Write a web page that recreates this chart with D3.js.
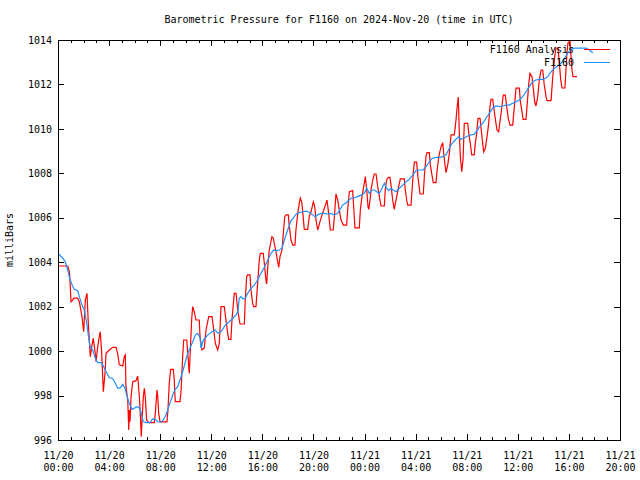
<!DOCTYPE html>
<html><head><meta charset="utf-8">
<script src="https://cdn.jsdelivr.net/npm/d3@7"></script>
<style>
body{margin:0;background:#fff}
text{font-family:"DejaVu Sans Mono","Liberation Mono",monospace;font-size:10px;fill:#000}
</style></head><body>
<svg id="c" width="640" height="480"></svg>
<script>
const title = "Barometric Pressure for F1160 on 2024-Nov-20 (time in UTC)";
const yLabel = "milliBars";
const seriesNames = ["F1160 Analysis", "F1160"];
const seriesColors = ["#ff0000", "#1e90ff"];
const yTicks = [996, 998, 1000, 1002, 1004, 1006, 1008, 1010, 1012, 1014];
const xTickHours = [0, 4, 8, 12, 16, 20, 24, 28, 32, 36, 40, 44];
const xTickLabels = [["11/20","00:00"],["11/20","04:00"],["11/20","08:00"],["11/20","12:00"],["11/20","16:00"],["11/20","20:00"],
                     ["11/21","00:00"],["11/21","04:00"],["11/21","08:00"],["11/21","12:00"],["11/21","16:00"],["11/21","20:00"]];

// hours after 2024-11-20 00:00 UTC
const redHours = [0.05,0.76,0.90,1.02,1.10,1.25,1.54,1.67,1.88,2.01,
2.14,2.27,2.37,2.45,2.53,2.64,2.76,2.90,2.98,3.11,
3.23,3.31,3.42,3.55,3.62,3.70,3.76,4.02,4.28,4.54,
4.67,4.80,5.07,5.19,5.27,5.32,5.46,5.54,5.58,5.64,
5.72,5.85,6.11,6.24,6.37,6.44,6.52,6.58,6.68,6.76,
6.83,6.94,7.10,7.54,7.62,7.75,7.81,7.88,7.99,8.53,
8.61,8.71,8.82,9.03,9.10,9.18,9.55,9.63,9.76,9.84,
10.08,10.18,10.28,10.36,10.47,10.55,10.67,10.80,11.06,11.12,
11.27,11.45,11.59,11.80,12.06,12.16,12.32,12.50,12.63,12.76,
13.02,13.15,13.29,13.36,13.54,13.62,13.80,13.94,14.07,14.25,
14.59,14.66,14.77,14.85,15.03,15.11,15.24,15.32,15.50,15.63,
15.76,15.84,16.07,16.18,16.28,16.34,16.42,16.54,16.75,16.86,
16.93,17.07,17.20,17.28,17.38,17.54,17.64,17.75,17.85,18.03,
18.11,18.24,18.38,18.55,18.63,18.77,18.89,18.97,19.08,19.16,
19.24,19.28,19.55,19.67,19.81,19.99,20.10,20.20,20.33,20.41,
20.51,20.67,20.85,20.98,21.06,21.19,21.32,21.55,21.66,21.76,
21.90,22.02,22.16,22.34,22.60,22.68,22.81,23.07,23.15,23.25,
23.59,23.67,23.80,23.98,24.06,24.17,24.27,24.33,24.43,24.53,
24.64,24.76,24.90,25.03,25.16,25.29,25.55,25.62,25.73,25.86,
25.99,26.09,26.20,26.33,26.41,26.52,26.67,26.80,27.11,27.19,
27.30,27.38,27.64,27.72,27.82,27.90,28.08,28.18,28.29,28.34,
28.60,28.68,28.81,28.89,29.07,29.15,29.28,29.38,29.59,29.67,
29.81,29.99,30.12,30.20,30.30,30.38,30.51,30.64,30.77,31.03,
31.16,31.24,31.34,31.42,31.50,31.61,31.71,31.81,32.08,32.16,
32.28,32.39,32.59,32.67,32.78,32.88,33.04,33.12,33.25,33.33,
33.46,33.59,33.72,33.82,33.90,34.03,34.16,34.29,34.37,34.50,
34.60,34.74,34.86,35.02,35.13,35.25,35.39,35.60,35.68,35.80,
35.86,36.12,36.20,36.33,36.41,36.64,36.72,36.85,36.95,37.11,
37.21,37.32,37.42,37.56,37.68,37.82,37.95,38.07,38.21,38.28,
38.60,38.68,38.78,38.89,38.99,39.15,39.25,39.36,39.46,39.69,
39.77,39.85,39.93,40.08,40.16,40.24,40.32,40.63];
const redValues = [1003.83,1003.83,1003.56,1002.22,1002.26,1002.38,1002.38,1002.22,1001.55,1000.87,
1002.30,1002.60,1001.27,1000.50,999.75,1000.20,1000.58,999.97,999.52,1000.20,
1000.65,1000.87,999.92,998.17,998.62,999.15,999.90,1000.05,1000.17,1000.17,
999.90,999.38,999.33,999.75,999.83,998.40,997.80,996.45,997.35,996.82,
997.95,998.62,998.67,998.88,997.95,997.21,996.15,996.90,997.95,998.33,
997.95,996.90,996.78,996.78,997.20,998.25,997.95,997.21,996.82,996.82,
997.35,998.55,999.18,999.18,998.70,997.73,997.73,998.17,999.75,1000.50,
1000.50,999.75,999.00,1000.05,1001.48,1002.00,1001.77,1001.40,1001.40,1000.65,
1000.05,1000.13,1000.95,1001.55,1001.55,1001.10,1000.35,1000.05,1000.35,1002.00,
1002.00,1001.40,1000.80,1000.53,1000.53,1001.40,1002.60,1002.60,1001.85,1001.22,
1001.22,1002.30,1003.35,1003.43,1003.43,1002.75,1002.15,1002.00,1002.00,1003.05,
1004.10,1004.40,1004.40,1003.80,1003.20,1003.02,1003.78,1004.55,1005.15,1005.08,
1004.85,1004.47,1004.02,1003.77,1004.25,1004.55,1005.30,1006.05,1006.13,1006.13,
1005.60,1005.00,1004.77,1004.77,1005.45,1006.20,1006.65,1006.88,1006.72,1006.27,
1005.75,1005.48,1005.48,1006.05,1006.27,1006.72,1006.50,1005.90,1005.45,1005.60,
1005.83,1006.13,1006.43,1006.65,1006.80,1006.20,1005.45,1005.45,1006.20,1007.07,
1006.80,1006.35,1005.90,1005.67,1005.67,1006.35,1007.17,1007.22,1006.50,1005.55,
1005.55,1006.35,1006.95,1007.55,1007.85,1007.25,1006.50,1006.38,1006.80,1007.33,
1007.70,1007.97,1007.97,1007.40,1006.95,1006.53,1006.53,1007.25,1007.70,1007.82,
1007.82,1007.40,1006.80,1006.38,1006.65,1006.95,1007.40,1007.75,1007.75,1007.25,
1006.80,1006.57,1006.57,1007.25,1008.07,1008.50,1008.50,1007.85,1007.33,1007.07,
1007.07,1007.85,1008.75,1008.93,1008.93,1008.37,1007.92,1007.58,1007.58,1008.07,
1008.75,1009.20,1009.38,1008.90,1008.37,1008.03,1008.37,1008.90,1009.73,1009.73,
1010.40,1010.93,1011.43,1009.80,1008.75,1008.07,1008.60,1010.25,1010.25,1009.80,
1009.35,1008.83,1008.83,1009.35,1009.80,1010.47,1010.47,1010.04,1009.35,1008.97,
1009.13,1009.65,1010.25,1011.00,1011.33,1011.33,1010.77,1010.25,1009.95,1009.87,
1010.32,1010.93,1011.52,1011.52,1011.00,1010.47,1010.17,1010.17,1010.70,1011.45,
1011.83,1011.83,1011.22,1010.77,1010.43,1010.43,1011.00,1011.98,1012.50,1012.35,
1011.83,1011.22,1011.03,1011.45,1012.20,1012.65,1012.65,1011.98,1011.45,1011.27,
1011.27,1011.90,1012.65,1013.25,1013.64,1013.64,1012.97,1012.20,1011.84,1011.84,
1012.65,1013.46,1013.87,1013.95,1013.32,1012.65,1012.35,1012.35];

const blueHours = [0.05,0.37,0.57,0.76,0.88,1.10,1.28,1.54,1.67,1.88,
2.06,2.25,2.37,2.51,2.72,2.92,3.11,3.37,3.58,3.76,
4.02,4.28,4.49,4.67,4.85,5.07,5.25,5.38,5.58,5.79,
5.97,6.16,6.37,6.52,6.68,6.89,7.20,7.41,7.62,7.81,
8.06,8.24,8.46,8.67,8.85,9.03,9.18,9.37,9.55,9.76,
9.97,10.15,10.33,10.55,10.75,10.94,11.12,11.20,11.38,11.72,
12.06,12.32,12.50,12.76,13.10,13.41,13.68,13.94,14.09,14.19,
14.33,14.46,14.66,14.85,15.11,15.37,15.63,15.89,16.15,16.42,
16.68,16.89,17.07,17.33,17.54,17.72,17.98,18.24,18.42,18.63,
18.89,19.16,19.42,19.67,19.94,20.12,20.33,20.59,20.85,21.12,
21.37,21.63,21.90,22.08,22.29,22.55,22.94,23.20,23.46,23.72,
23.98,24.17,24.37,24.58,24.76,24.95,25.16,25.37,25.55,25.68,
25.89,26.07,26.25,26.46,26.72,26.99,27.25,27.50,27.77,28.03,
28.29,28.60,28.81,29.07,29.28,29.59,29.91,30.12,30.38,30.64,
30.85,31.10,31.37,31.55,31.76,32.08,32.33,32.59,32.86,32.98,
33.25,33.51,33.77,34.03,34.29,34.55,34.82,35.07,35.33,35.60,
35.86,36.12,36.38,36.64,36.90,37.16,37.42,37.68,37.95,38.15,
38.34,38.60,38.86,39.12,39.38,39.64,39.90,40.16,40.42,40.81,
41.34,41.60,41.87];
const blueValues = [1004.37,1004.18,1004.02,1003.65,1003.35,1002.97,1002.78,1002.72,1002.45,1002.07,
1001.85,1001.25,1000.72,1000.20,1000.05,999.68,999.48,999.48,999.30,999.07,
998.80,998.77,998.55,998.33,998.33,998.50,998.33,998.02,997.65,997.38,
997.43,997.50,997.45,997.20,996.82,996.78,996.78,996.95,996.93,996.82,
996.80,996.90,997.12,997.50,997.80,998.10,998.28,998.40,998.70,999.07,
999.52,999.90,1000.13,1000.42,1000.72,1000.80,1000.59,1000.13,1000.50,1000.72,
1000.87,1000.95,1000.80,1000.87,1001.17,1001.32,1001.48,1001.63,1001.78,1002.38,
1002.45,1002.35,1002.38,1002.60,1002.83,1002.97,1003.20,1003.50,1003.77,1004.10,
1004.40,1004.55,1004.52,1004.55,1004.63,1005.00,1005.45,1005.87,1005.98,1006.16,
1006.23,1006.27,1006.30,1006.25,1006.13,1006.05,1006.13,1006.20,1006.20,1006.16,
1006.20,1006.13,1006.20,1006.38,1006.57,1006.68,1006.88,1006.90,1006.95,1007.02,
1007.10,1007.33,1007.10,1007.25,1007.25,1007.17,1007.10,1007.33,1007.55,1007.37,
1007.22,1007.33,1007.25,1007.17,1007.33,1007.47,1007.62,1007.73,1007.92,1008.12,
1008.15,1008.15,1008.30,1008.52,1008.67,1008.72,1008.72,1008.75,1008.83,1009.13,
1009.35,1009.50,1009.65,1009.53,1009.58,1009.68,1009.73,1009.76,1009.95,1010.10,
1010.25,1010.48,1010.70,1010.93,1011.03,1011.00,1011.03,1011.07,1011.07,1011.15,
1011.22,1011.30,1011.45,1011.67,1011.90,1012.12,1012.20,1012.23,1012.23,1012.28,
1012.35,1012.57,1012.72,1012.83,1012.95,1013.18,1013.40,1013.58,1013.63,1013.63,
1013.63,1013.55,1013.43];

const START = Date.UTC(2024, 10, 20, 0, 0);
const toDate = h => new Date(START + h * 3600e3);

const W = 640, H = 480;
const L = 58, R = 620, T = 40, B = 440;
const svg = d3.select("#c");
svg.append("rect").attr("width", W).attr("height", H).attr("fill", "#fff");

const x = d3.scaleUtc().domain([toDate(0), toDate(44)]).range([L, R]);
const y = d3.scaleLinear().domain([996, 1014]).range([B, T]);

const majorX = xTickHours.map(toDate);
const minorX = d3.utcHour.every(1).range(toDate(0), toDate(44.01)).filter(d => d.getUTCHours() % 4 !== 0);

function styleAxis(g) {
  g.select(".domain").remove();
  g.selectAll("line").attr("stroke", "#000").attr("shape-rendering", "crispEdges");
}

// bottom
const gb = svg.append("g").attr("transform", `translate(0,${B})`)
  .call(d3.axisBottom(x).tickValues(majorX).tickSizeInner(-6).tickSizeOuter(0).tickFormat(() => ""))
  .call(styleAxis);
gb.selectAll(".tick text").each(function(d, i) {
  const t = d3.select(this).attr("y", null).attr("dy", null);
  t.selectAll("tspan").data(xTickLabels[i]).enter().append("tspan")
    .attr("x", 0).attr("y", (s, j) => 19 + j * 12).text(s => s);
});
svg.append("g").attr("transform", `translate(0,${B})`)
  .call(d3.axisBottom(x).tickValues(minorX).tickSizeInner(-3).tickSizeOuter(0).tickFormat(() => ""))
  .call(styleAxis);
// top
svg.append("g").attr("transform", `translate(0,${T})`)
  .call(d3.axisTop(x).tickValues(majorX).tickSizeInner(-6).tickSizeOuter(0).tickFormat(() => ""))
  .call(styleAxis);
svg.append("g").attr("transform", `translate(0,${T})`)
  .call(d3.axisTop(x).tickValues(minorX).tickSizeInner(-3).tickSizeOuter(0).tickFormat(() => ""))
  .call(styleAxis);
// left
svg.append("g").attr("transform", `translate(${L},0)`)
  .call(d3.axisLeft(y).tickValues(yTicks).tickSizeInner(-6).tickSizeOuter(0).tickPadding(6).tickFormat(d3.format("d")))
  .call(styleAxis)
  .selectAll("text").attr("font-size", null);
// right
svg.append("g").attr("transform", `translate(${R},0)`)
  .call(d3.axisRight(y).tickValues(yTicks).tickSizeInner(-6).tickSizeOuter(0).tickFormat(() => ""))
  .call(styleAxis);

svg.selectAll("g").attr("font-family", null).attr("font-size", null);

// series
const line = d3.line().x(d => x(toDate(d[0]))).y(d => y(d[1]));
const redData = redHours.map((h, i) => [h, redValues[i]]);
const blueData = blueHours.map((h, i) => [h, blueValues[i]]);

svg.append("path").datum(redData).attr("d", line)
  .attr("fill", "none").attr("stroke", seriesColors[0]).attr("stroke-width", 1.2);
svg.append("path").datum(blueData).attr("d", line)
  .attr("fill", "none").attr("stroke", seriesColors[1]).attr("stroke-width", 1.2);

// border
svg.append("rect").attr("x", L + 0.5).attr("y", T + 0.5).attr("width", R - L).attr("height", B - T)
  .attr("fill", "none").attr("stroke", "#000").attr("shape-rendering", "crispEdges");

// title
svg.append("text").attr("x", (L + R) / 2).attr("y", 23).attr("text-anchor", "middle").text(title);
// y label
svg.append("text").attr("transform", "translate(13,240) rotate(-90)").attr("text-anchor", "middle").text(yLabel);

// legend
const lg = svg.append("g");
seriesNames.forEach((name, i) => {
  const yy = 49 + i * 13;
  lg.append("text").attr("x", 574).attr("y", yy + 4).attr("text-anchor", "end").text(name);
  lg.append("line").attr("x1", 584).attr("x2", 610).attr("y1", yy + 0.5).attr("y2", yy + 0.5)
    .attr("stroke", seriesColors[i]).attr("stroke-width", 1).attr("shape-rendering", "crispEdges");
});
</script>
</body></html>
